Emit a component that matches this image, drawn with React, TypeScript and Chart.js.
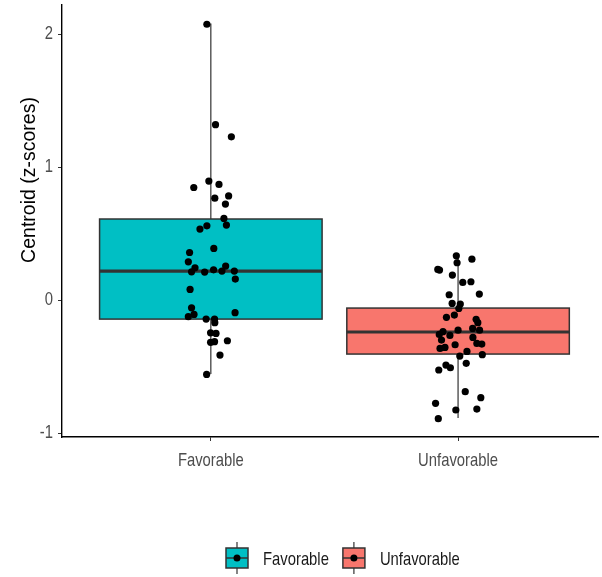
import React, { useEffect, useRef } from 'react';
import { Chart, registerables } from 'chart.js';
Chart.register(...registerables);

const categories = ['Favorable', 'Unfavorable'];
const boxColors = ['#00BFC4', '#F8766D'];
const q1 = [-0.143, -0.406];
const medians = [0.218, -0.24];
const q3 = [0.61, -0.06];
const whiskerLow = [-0.556, -0.887];
const whiskerHigh = [2.08, 0.333];
const yTicks = [-1, 0, 1, 2];
const yTitle = 'Centroid (z-scores)';

const favY = [2.075, 1.32, 1.228, 0.895, 0.847, 0.87, 0.784, 0.767, 0.722, 0.614, 0.564, 0.534, 0.559, 0.389, 0.358, 0.288, 0.243, 0.213, 0.211, 0.228, 0.218, 0.256, 0.218, 0.158, 0.08, -0.058, -0.125, -0.108, -0.095, -0.143, -0.143, -0.17, -0.246, -0.251, -0.318, -0.313, -0.306, -0.414, -0.559];
const favJitter = [-0.016, 0.019, 0.083, -0.008, -0.069, 0.033, 0.072, 0.016, 0.059, 0.053, 0.063, -0.044, -0.016, 0.012, -0.086, -0.091, -0.064, -0.078, -0.025, 0.011, 0.045, 0.06, 0.095, 0.099, -0.084, -0.078, -0.091, -0.068, 0.098, -0.019, 0.015, 0.016, -0.001, 0.021, -0.001, 0.015, 0.067, 0.037, -0.017];
const unfY = [0.333, 0.308, 0.281, 0.231, 0.226, 0.188, 0.133, 0.138, 0.045, 0.04, -0.025, -0.03, -0.063, -0.113, -0.13, -0.145, -0.17, -0.213, -0.226, -0.226, -0.238, -0.258, -0.266, -0.281, -0.301, -0.326, -0.331, -0.336, -0.364, -0.356, -0.386, -0.411, -0.421, -0.476, -0.489, -0.509, -0.526, -0.689, -0.734, -0.777, -0.827, -0.82, -0.892];
const unfJitter = [-0.007, 0.056, -0.004, -0.082, -0.075, -0.023, 0.019, 0.052, 0.086, -0.036, -0.024, 0.009, 0.003, -0.015, -0.047, 0.073, 0.08, 0.059, 0.087, 0.0, -0.061, -0.076, -0.033, 0.06, -0.067, 0.076, 0.096, -0.012, -0.073, -0.053, 0.036, 0.098, 0.007, 0.033, -0.049, -0.031, -0.078, 0.029, 0.092, -0.091, -0.009, 0.076, -0.08];

const FONT = "'Liberation Sans', Arial, sans-serif";
const BORDER = '#333333';
const SQUEEZE = 0.78;

function squeezedText(ctx: any, text: string, x: number, y: number, align: string, baseline: string, color: string, size: number) {
  ctx.save();
  ctx.translate(x, y);
  ctx.scale(SQUEEZE, 1);
  ctx.font = `${size}px ${FONT}`;
  ctx.fillStyle = color;
  ctx.textAlign = align;
  ctx.textBaseline = baseline;
  ctx.fillText(text, 0, 0);
  ctx.restore();
}

const boxPlugin = {
  id: 'boxPlugin',
  beforeDatasetsDraw(chart: any) {
    const { ctx, scales } = chart;
    const xs = scales.x;
    const ys = scales.y;
    ctx.save();
    categories.forEach((_, i) => {
      const xc = xs.getPixelForValue(i + 1);
      const xl = xs.getPixelForValue(i + 1 - 0.45);
      const xr = xs.getPixelForValue(i + 1 + 0.45);
      const yq1 = ys.getPixelForValue(q1[i]);
      const yq3 = ys.getPixelForValue(q3[i]);
      const ym = ys.getPixelForValue(medians[i]);
      const ylo = ys.getPixelForValue(whiskerLow[i]);
      const yhi = ys.getPixelForValue(whiskerHigh[i]);
      ctx.strokeStyle = BORDER;
      ctx.lineWidth = 1.2;
      ctx.beginPath();
      ctx.moveTo(xc, yhi);
      ctx.lineTo(xc, yq3);
      ctx.moveTo(xc, yq1);
      ctx.lineTo(xc, ylo);
      ctx.stroke();
      ctx.fillStyle = boxColors[i];
      ctx.fillRect(xl, yq3, xr - xl, yq1 - yq3);
      ctx.lineWidth = 1.5;
      ctx.strokeRect(xl, yq3, xr - xl, yq1 - yq3);
      ctx.lineWidth = 3.2;
      ctx.beginPath();
      ctx.moveTo(xl, ym);
      ctx.lineTo(xr, ym);
      ctx.stroke();
    });
    ctx.restore();
  },
  afterDraw(chart: any) {
    const { ctx, scales } = chart;
    const xs = scales.x;
    const ys = scales.y;
    // axis tick labels
    ys.ticks.forEach((t: any) => {
      squeezedText(ctx, String(t.value), xs.left - 9, ys.getPixelForValue(t.value), 'right', 'middle', '#4D4D4D', 19);
    });
    xs.ticks.forEach((t: any) => {
      const label = categories[Math.round(t.value) - 1] ?? '';
      squeezedText(ctx, label, xs.getPixelForValue(t.value), ys.bottom + 29, 'center', 'alphabetic', '#4D4D4D', 19);
    });
    // y axis title
    ctx.save();
    ctx.translate(35, 180);
    ctx.rotate(-Math.PI / 2);
    ctx.font = `19.5px ${FONT}`;
    ctx.fillStyle = '#000';
    ctx.textAlign = 'center';
    ctx.textBaseline = 'alphabetic';
    ctx.fillText(yTitle, 0, 0);
    ctx.restore();
    // legend
    ctx.save();
    ctx.font = `19px ${FONT}`;
    const iconW = 22;
    const iconH = 20;
    const gapIconText = 15;
    const gapItems = 14;
    let x = 226;
    const yc = 558;
    categories.forEach((c, i) => {
      const cx = x + iconW / 2;
      ctx.strokeStyle = BORDER;
      ctx.lineWidth = 1.2;
      ctx.beginPath();
      ctx.moveTo(cx, yc - iconH / 2 - 6);
      ctx.lineTo(cx, yc + iconH / 2 + 6);
      ctx.stroke();
      ctx.fillStyle = boxColors[i];
      ctx.fillRect(x, yc - iconH / 2, iconW, iconH);
      ctx.lineWidth = 1.5;
      ctx.strokeRect(x, yc - iconH / 2, iconW, iconH);
      ctx.beginPath();
      ctx.moveTo(x, yc);
      ctx.lineTo(x + iconW, yc);
      ctx.stroke();
      ctx.fillStyle = '#000';
      ctx.beginPath();
      ctx.arc(cx, yc, 3.5, 0, Math.PI * 2);
      ctx.fill();
      const tx = x + iconW + gapIconText;
      squeezedText(ctx, c, tx, yc + 7, 'left', 'alphabetic', '#1a1a1a', 19);
      x = tx + ctx.measureText(c).width * SQUEEZE + gapItems;
    });
    ctx.restore();
  },
};

export default function App() {
  const ref = useRef<HTMLCanvasElement>(null);
  useEffect(() => {
    if (!ref.current) return;
    Chart.defaults.font.family = FONT;
    const chart = new Chart(ref.current, {
      type: 'scatter',
      data: {
        datasets: [
          {
            label: categories[0],
            data: favY.map((y, i) => ({ x: 1 + favJitter[i], y })),
            backgroundColor: '#000',
            borderColor: '#000',
            pointRadius: 3.6,
            borderWidth: 0,
          },
          {
            label: categories[1],
            data: unfY.map((y, i) => ({ x: 2 + unfJitter[i], y })),
            backgroundColor: '#000',
            borderColor: '#000',
            pointRadius: 3.6,
            borderWidth: 0,
          },
        ],
      },
      options: {
        animation: false,
        responsive: true,
        maintainAspectRatio: false,
        layout: { padding: { top: 5, right: 0, left: 0, bottom: 0 } },
        plugins: { legend: { display: false }, tooltip: { enabled: false } },
        scales: {
          x: {
            type: 'linear',
            min: 0.398,
            max: 2.566,
            afterBuildTicks: (s: any) => {
              s.ticks = categories.map((_, i) => ({ value: i + 1 }));
            },
            afterFit: (s: any) => {
              s.height = 140;
              s.paddingLeft = 0;
              s.paddingRight = 0;
            },
            ticks: { display: false },
            grid: { display: true, drawOnChartArea: false, tickLength: 4, color: BORDER, lineWidth: 1 },
            border: { display: true, color: '#000', width: 1.4 },
          },
          y: {
            type: 'linear',
            min: -1.03,
            max: 2.22,
            afterBuildTicks: (s: any) => {
              s.ticks = yTicks.map((v) => ({ value: v }));
            },
            afterFit: (s: any) => {
              s.width = 62;
              s.paddingTop = 0;
              s.paddingBottom = 0;
            },
            ticks: { display: false },
            grid: { display: true, drawOnChartArea: false, tickLength: 4, color: BORDER, lineWidth: 1 },
            border: { display: true, color: '#000', width: 1.4 },
          },
        },
      },
      plugins: [boxPlugin],
    });
    return () => chart.destroy();
  }, []);
  return (
    <div style={{ position: 'fixed', left: 0, top: 0, width: 602, height: 577, background: '#fff' }}>
      <canvas ref={ref} />
    </div>
  );
}
